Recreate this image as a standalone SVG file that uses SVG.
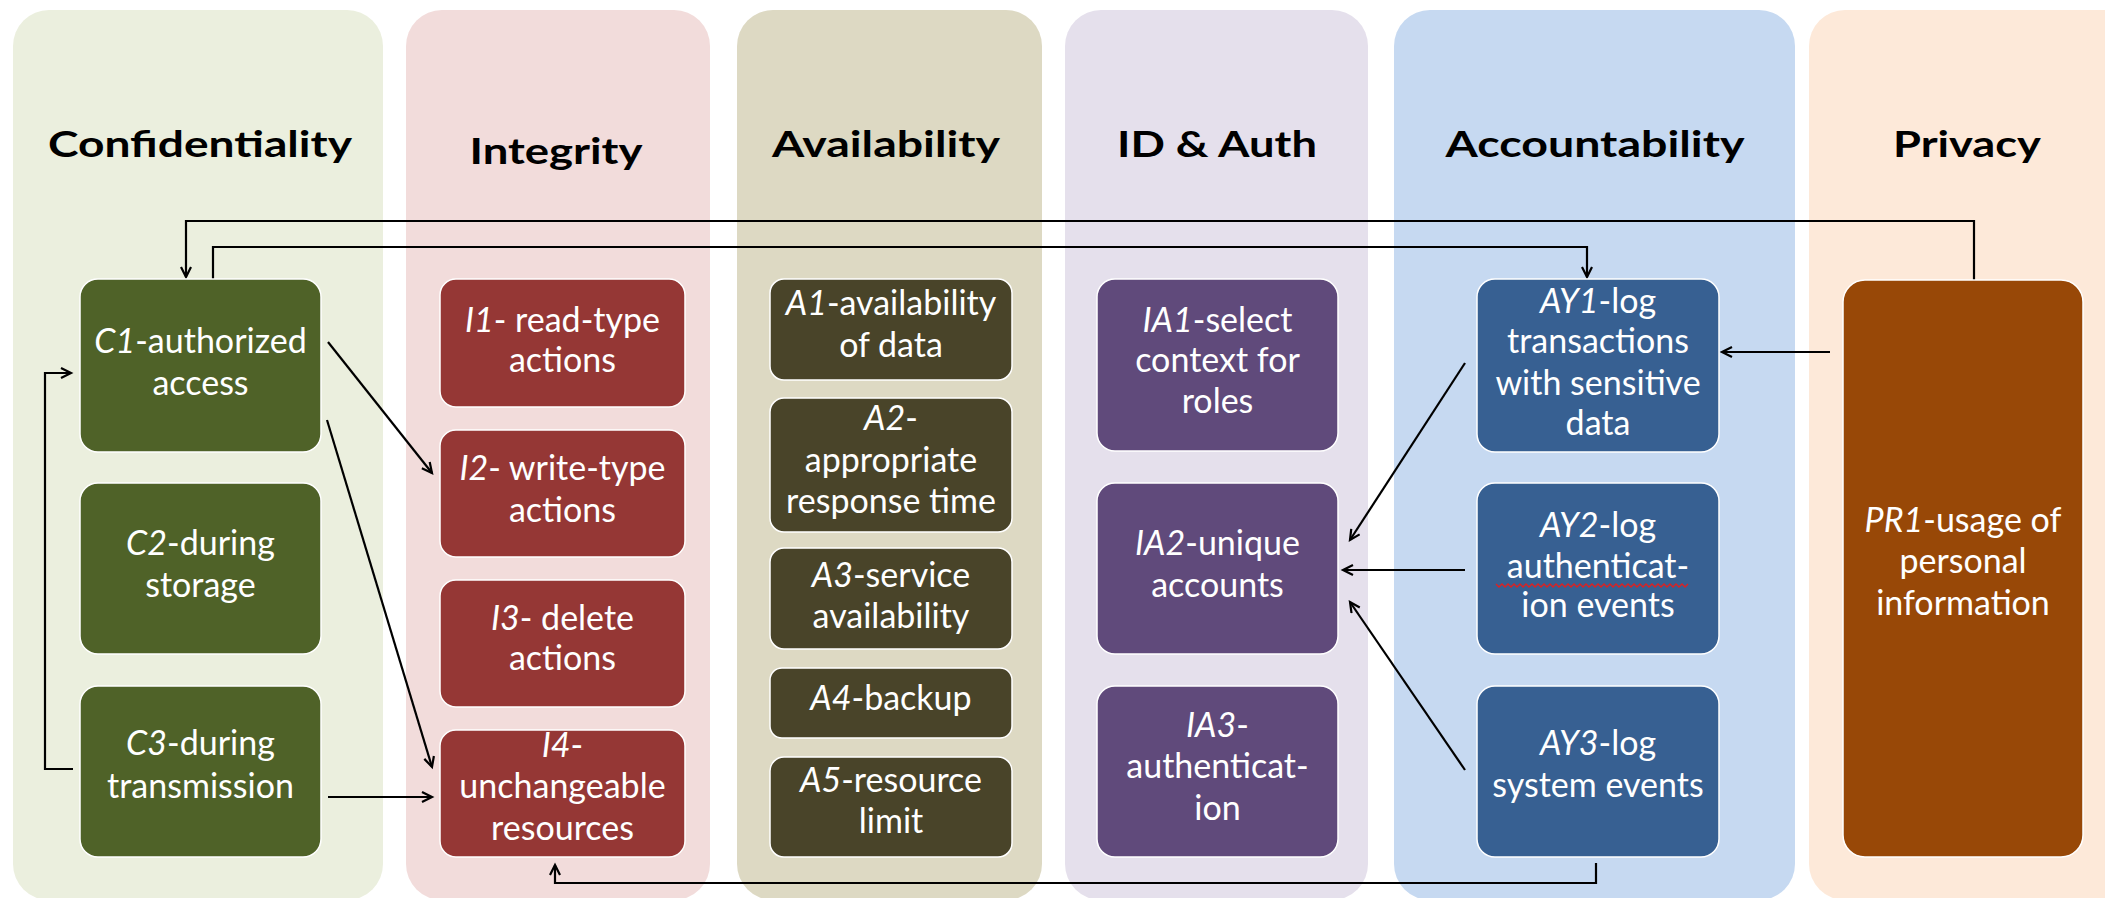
<svg xmlns="http://www.w3.org/2000/svg" width="2105" height="898" viewBox="0 0 2105 898">
<style>
.col{stroke:none}
.hdr{font-family:Lato,"Open Sans","Liberation Sans",sans-serif;font-weight:bold;font-size:37px;fill:#000;text-anchor:middle}
.node{stroke:#fff;stroke-width:1.5}
.t{font-family:Lato,"Open Sans","Liberation Sans",sans-serif;font-size:34px;fill:#fff;text-anchor:middle}
.i{font-style:italic}
.c{fill:none;stroke:#000;stroke-width:2.2}
</style>
<defs>
<marker id="ah" markerUnits="userSpaceOnUse" markerWidth="16" markerHeight="16" refX="11" refY="6" orient="auto">
<path d="M1,1 L11,6 L1,11" fill="none" stroke="#000" stroke-width="2.2"/>
</marker>
</defs>
<rect width="2105" height="898" fill="#fff"/>
<g id="columns">
<rect class="col" x="13" y="10" width="370" height="890" rx="36" fill="#EBEFDE"/>
<rect class="col" x="406" y="10" width="304" height="890" rx="36" fill="#F2DCDB"/>
<rect class="col" x="737" y="10" width="305" height="890" rx="36" fill="#DDD9C3"/>
<rect class="col" x="1065" y="10" width="303" height="890" rx="36" fill="#E5E0EC"/>
<rect class="col" x="1394" y="10" width="401" height="890" rx="36" fill="#C6D9F1"/>
<rect class="col" x="1809" y="10" width="330" height="890" rx="36" fill="#FDE9D9"/>
<text class="hdr" x="200" y="157" textLength="304" lengthAdjust="spacingAndGlyphs">Confidentiality</text>
<text class="hdr" x="556" y="164" textLength="173" lengthAdjust="spacingAndGlyphs">Integrity</text>
<text class="hdr" x="886" y="157" textLength="228" lengthAdjust="spacingAndGlyphs">Availability</text>
<text class="hdr" x="1217" y="157" textLength="200" lengthAdjust="spacingAndGlyphs">ID &amp; Auth</text>
<text class="hdr" x="1595" y="157" textLength="299" lengthAdjust="spacingAndGlyphs">Accountability</text>
<text class="hdr" x="1967" y="157" textLength="148" lengthAdjust="spacingAndGlyphs">Privacy</text>
</g>
<g id="connectors">
<path class="c" d="M1974,280 V221 H186 V277" marker-end="url(#ah)"/>
<path class="c" d="M213,279 V247 H1587 V277" marker-end="url(#ah)"/>
<path class="c" d="M328,342 L432,473" marker-end="url(#ah)"/>
<path class="c" d="M327,420 L432,767" marker-end="url(#ah)"/>
<path class="c" d="M73,769 H45 V373 H71" marker-end="url(#ah)"/>
<path class="c" d="M328,797 H432" marker-end="url(#ah)"/>
<path class="c" d="M1596,863 V883 H555 V865" marker-end="url(#ah)"/>
<path class="c" d="M1830,352 H1722" marker-end="url(#ah)"/>
<path class="c" d="M1465,363 L1350,540" marker-end="url(#ah)"/>
<path class="c" d="M1465,570 H1343" marker-end="url(#ah)"/>
<path class="c" d="M1465,770 L1350,602" marker-end="url(#ah)"/>
</g>
<g id="C1"><rect class="node" x="80" y="279" width="241" height="173" rx="18" fill="#4F6228"/>
<text class="t" x="200.5" y="353"><tspan class="i">C1</tspan>-authorized</text><text class="t" x="200.5" y="395">access</text></g>
<g id="C2"><rect class="node" x="80" y="483" width="241" height="171" rx="18" fill="#4F6228"/>
<text class="t" x="200.5" y="555"><tspan class="i">C2</tspan>-during</text><text class="t" x="200.5" y="597">storage</text></g>
<g id="C3"><rect class="node" x="80" y="686" width="241" height="171" rx="18" fill="#4F6228"/>
<text class="t" x="200.5" y="755"><tspan class="i">C3</tspan>-during</text><text class="t" x="200.5" y="798">transmission</text></g>
<g id="I1"><rect class="node" x="440" y="279" width="245" height="128" rx="16" fill="#953735"/>
<text class="t" x="562.5" y="332"><tspan class="i">I1</tspan>- read-type</text><text class="t" x="562.5" y="372">actions</text></g>
<g id="I2"><rect class="node" x="440" y="430" width="245" height="127" rx="16" fill="#953735"/>
<text class="t" x="562.5" y="480"><tspan class="i">I2</tspan>- write-type</text><text class="t" x="562.5" y="522">actions</text></g>
<g id="I3"><rect class="node" x="440" y="580" width="245" height="127" rx="16" fill="#953735"/>
<text class="t" x="562.5" y="630"><tspan class="i">I3</tspan>- delete</text><text class="t" x="562.5" y="670">actions</text></g>
<g id="I4"><rect class="node" x="440" y="730" width="245" height="127" rx="16" fill="#953735"/>
<text class="t" x="562.5" y="757"><tspan class="i">I4</tspan>-</text><text class="t" x="562.5" y="798">unchangeable</text><text class="t" x="562.5" y="840">resources</text></g>
<g id="A1"><rect class="node" x="770" y="279" width="242" height="101" rx="14" fill="#494429"/>
<text class="t" x="891" y="315"><tspan class="i">A1</tspan>-availability</text><text class="t" x="891" y="357">of data</text></g>
<g id="A2"><rect class="node" x="770" y="398" width="242" height="134" rx="14" fill="#494429"/>
<text class="t" x="891" y="430"><tspan class="i">A2</tspan>-</text><text class="t" x="891" y="472">appropriate</text><text class="t" x="891" y="513">response time</text></g>
<g id="A3"><rect class="node" x="770" y="548" width="242" height="101" rx="14" fill="#494429"/>
<text class="t" x="891" y="587"><tspan class="i">A3</tspan>-service</text><text class="t" x="891" y="628">availability</text></g>
<g id="A4"><rect class="node" x="770" y="668" width="242" height="70" rx="12" fill="#494429"/>
<text class="t" x="891" y="710"><tspan class="i">A4</tspan>-backup</text></g>
<g id="A5"><rect class="node" x="770" y="757" width="242" height="100" rx="14" fill="#494429"/>
<text class="t" x="891" y="792"><tspan class="i">A5</tspan>-resource</text><text class="t" x="891" y="833">limit</text></g>
<g id="IA1"><rect class="node" x="1097" y="279" width="241" height="172" rx="18" fill="#604A7B"/>
<text class="t" x="1217.5" y="332"><tspan class="i">IA1</tspan>-select</text><text class="t" x="1217.5" y="372">context for</text><text class="t" x="1217.5" y="413">roles</text></g>
<g id="IA2"><rect class="node" x="1097" y="483" width="241" height="171" rx="18" fill="#604A7B"/>
<text class="t" x="1217.5" y="555"><tspan class="i">IA2</tspan>-unique</text><text class="t" x="1217.5" y="597">accounts</text></g>
<g id="IA3"><rect class="node" x="1097" y="686" width="241" height="171" rx="18" fill="#604A7B"/>
<text class="t" x="1217.5" y="737"><tspan class="i">IA3</tspan>-</text><text class="t" x="1217.5" y="778">authenticat-</text><text class="t" x="1217.5" y="820">ion</text></g>
<g id="AY1"><rect class="node" x="1477" y="279" width="242" height="173" rx="18" fill="#376092"/>
<text class="t" x="1598" y="313"><tspan class="i">AY1</tspan>-log</text><text class="t" x="1598" y="353">transactions</text><text class="t" x="1598" y="395">with sensitive</text><text class="t" x="1598" y="435">data</text></g>
<g id="AY2"><rect class="node" x="1477" y="483" width="242" height="171" rx="18" fill="#376092"/>
<text class="t" x="1598" y="537"><tspan class="i">AY2</tspan>-log</text><text class="t" x="1598" y="578">authenticat-</text><text class="t" x="1598" y="617">ion events</text>
<path d="M1496,584 l3,3 l3,-3 l3,3 l3,-3 l3,3 l3,-3 l3,3 l3,-3 l3,3 l3,-3 l3,3 l3,-3 l3,3 l3,-3 l3,3 l3,-3 l3,3 l3,-3 l3,3 l3,-3 l3,3 l3,-3 l3,3 l3,-3 l3,3 l3,-3 l3,3 l3,-3 l3,3 l3,-3 l3,3 l3,-3 l3,3 l3,-3 l3,3 l3,-3 l3,3 l3,-3 l3,3 l3,-3 l3,3 l3,-3 l3,3 l3,-3 l3,3 l3,-3 l3,3 l3,-3 l3,3 l3,-3 l3,3 l3,-3 l3,3 l3,-3 l3,3 l3,-3 l3,3 l3,-3 l3,3 l3,-3 l3,3 l3,-3 l3,3 l3,-3" fill="none" stroke="#E02020" stroke-width="1.3"/></g>
<g id="AY3"><rect class="node" x="1477" y="686" width="242" height="171" rx="18" fill="#376092"/>
<text class="t" x="1598" y="755"><tspan class="i">AY3</tspan>-log</text><text class="t" x="1598" y="797">system events</text></g>
<g id="PR1"><rect class="node" x="1843" y="280" width="240" height="577" rx="22" fill="#984807"/>
<text class="t" x="1963" y="532"><tspan class="i">PR1</tspan>-usage of</text><text class="t" x="1963" y="573">personal</text><text class="t" x="1963" y="615">information</text></g>
</svg>
